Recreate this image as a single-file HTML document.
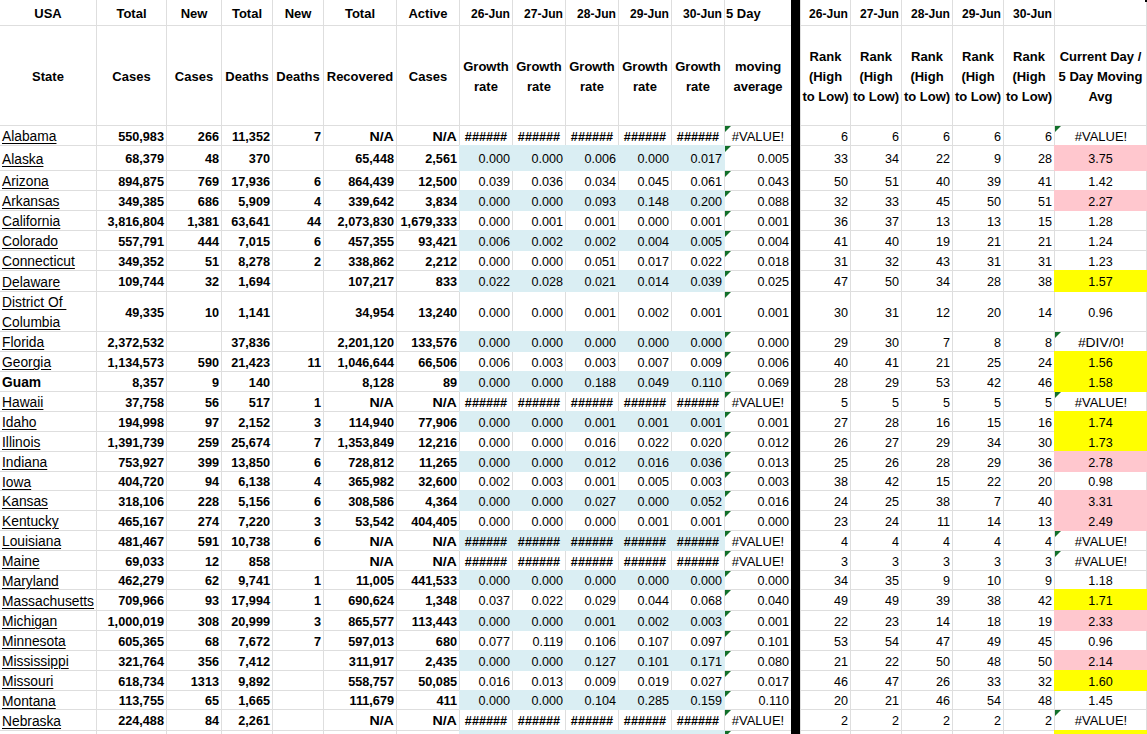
<!DOCTYPE html>
<html><head><meta charset="utf-8"><style>
*{margin:0;padding:0;box-sizing:border-box}
html,body{width:1147px;height:734px;overflow:hidden;background:#fff}
body{position:relative;font-family:"Liberation Sans",sans-serif;color:#000}
.v{position:absolute;top:0;width:1px;height:734px;background:#dedede}
.h{position:absolute;left:0;height:1px;width:1147px;background:#dedede}
.f{position:absolute}
.k{position:absolute;left:791px;top:0;width:9px;height:734px;background:#000}
.t{position:absolute;white-space:nowrap;line-height:20px;height:20px}
.b{font-weight:bold;font-size:13.0px}
.s{font-size:13.8px;text-decoration:underline;text-underline-offset:2px}
.sb{font-size:13.8px;font-weight:bold}
.bn{font-weight:bold;font-size:12.7px}
.n{font-size:12.6px}
.g{position:absolute;width:0;height:0;border-top:6px solid #12702a;border-right:6px solid transparent}
</style></head><body>
<div class="v" style="left:96px"></div><div class="v" style="left:166px"></div><div class="v" style="left:221px"></div><div class="v" style="left:272px"></div><div class="v" style="left:323px"></div><div class="v" style="left:396px"></div><div class="v" style="left:459px"></div><div class="v" style="left:512px"></div><div class="v" style="left:565px"></div><div class="v" style="left:618px"></div><div class="v" style="left:671px"></div><div class="v" style="left:724px"></div><div class="v" style="left:800px"></div><div class="v" style="left:850px"></div><div class="v" style="left:901px"></div><div class="v" style="left:952px"></div><div class="v" style="left:1003px"></div><div class="v" style="left:1054px"></div><div class="v" style="left:1146px"></div><div class="h" style="top:25px"></div><div class="h" style="top:125px"></div><div class="h" style="top:145px"></div><div class="h" style="top:170px"></div><div class="h" style="top:190px"></div><div class="h" style="top:210px"></div><div class="h" style="top:230px"></div><div class="h" style="top:250px"></div><div class="h" style="top:270px"></div><div class="h" style="top:291px"></div><div class="h" style="top:331px"></div><div class="h" style="top:351px"></div><div class="h" style="top:371px"></div><div class="h" style="top:391px"></div><div class="h" style="top:411px"></div><div class="h" style="top:431px"></div><div class="h" style="top:451px"></div><div class="h" style="top:471px"></div><div class="h" style="top:490px"></div><div class="h" style="top:510px"></div><div class="h" style="top:530px"></div><div class="h" style="top:550px"></div><div class="h" style="top:570px"></div><div class="h" style="top:589px"></div><div class="h" style="top:610px"></div><div class="h" style="top:630px"></div><div class="h" style="top:650px"></div><div class="h" style="top:670px"></div><div class="h" style="top:690px"></div><div class="h" style="top:709px"></div><div class="h" style="top:730px"></div>
<div class="f" style="left:459px;top:145px;width:266px;height:26px;background:#daeef3"></div><div class="f" style="left:1054px;top:145px;width:93px;height:26px;background:#ffc7ce"></div><div class="f" style="left:459px;top:190px;width:266px;height:21px;background:#daeef3"></div><div class="f" style="left:1054px;top:190px;width:93px;height:21px;background:#ffc7ce"></div><div class="f" style="left:459px;top:230px;width:266px;height:21px;background:#daeef3"></div><div class="f" style="left:459px;top:270px;width:266px;height:22px;background:#daeef3"></div><div class="f" style="left:1054px;top:270px;width:93px;height:22px;background:#ffff00"></div><div class="f" style="left:459px;top:331px;width:266px;height:21px;background:#daeef3"></div><div class="f" style="left:1054px;top:351px;width:93px;height:21px;background:#ffff00"></div><div class="f" style="left:459px;top:371px;width:266px;height:21px;background:#daeef3"></div><div class="f" style="left:1054px;top:371px;width:93px;height:21px;background:#ffff00"></div><div class="f" style="left:459px;top:411px;width:266px;height:21px;background:#daeef3"></div><div class="f" style="left:1054px;top:411px;width:93px;height:21px;background:#ffff00"></div><div class="f" style="left:1054px;top:431px;width:93px;height:21px;background:#ffff00"></div><div class="f" style="left:459px;top:451px;width:266px;height:21px;background:#daeef3"></div><div class="f" style="left:1054px;top:451px;width:93px;height:21px;background:#ffc7ce"></div><div class="f" style="left:459px;top:490px;width:266px;height:21px;background:#daeef3"></div><div class="f" style="left:1054px;top:490px;width:93px;height:21px;background:#ffc7ce"></div><div class="f" style="left:1054px;top:510px;width:93px;height:21px;background:#ffc7ce"></div><div class="f" style="left:459px;top:530px;width:266px;height:21px;background:#daeef3"></div><div class="f" style="left:459px;top:570px;width:266px;height:20px;background:#daeef3"></div><div class="f" style="left:1054px;top:589px;width:93px;height:22px;background:#ffff00"></div><div class="f" style="left:459px;top:610px;width:266px;height:21px;background:#daeef3"></div><div class="f" style="left:1054px;top:610px;width:93px;height:21px;background:#ffc7ce"></div><div class="f" style="left:459px;top:650px;width:266px;height:21px;background:#daeef3"></div><div class="f" style="left:1054px;top:650px;width:93px;height:21px;background:#ffc7ce"></div><div class="f" style="left:1054px;top:670px;width:93px;height:21px;background:#ffff00"></div><div class="f" style="left:459px;top:690px;width:266px;height:20px;background:#daeef3"></div><div class="f" style="left:459px;top:730px;width:266px;height:31px;background:#daeef3"></div><div class="f" style="left:1054px;top:730px;width:93px;height:10px;background:#ffff00"></div>
<div class="k"></div><div style="position:absolute;left:1145px;top:0;width:2px;height:2px;background:#000"></div>
<div class="g" style="left:725px;top:126px"></div><div class="g" style="left:1055px;top:126px"></div><div class="g" style="left:725px;top:146px"></div><div class="g" style="left:725px;top:171px"></div><div class="g" style="left:725px;top:191px"></div><div class="g" style="left:725px;top:211px"></div><div class="g" style="left:725px;top:231px"></div><div class="g" style="left:725px;top:251px"></div><div class="g" style="left:725px;top:271px"></div><div class="g" style="left:725px;top:292px"></div><div class="g" style="left:725px;top:332px"></div><div class="g" style="left:1055px;top:332px"></div><div class="g" style="left:725px;top:352px"></div><div class="g" style="left:725px;top:372px"></div><div class="g" style="left:725px;top:392px"></div><div class="g" style="left:1055px;top:392px"></div><div class="g" style="left:725px;top:412px"></div><div class="g" style="left:725px;top:432px"></div><div class="g" style="left:725px;top:452px"></div><div class="g" style="left:725px;top:472px"></div><div class="g" style="left:725px;top:491px"></div><div class="g" style="left:725px;top:511px"></div><div class="g" style="left:725px;top:531px"></div><div class="g" style="left:1055px;top:531px"></div><div class="g" style="left:725px;top:551px"></div><div class="g" style="left:1055px;top:551px"></div><div class="g" style="left:725px;top:571px"></div><div class="g" style="left:725px;top:590px"></div><div class="g" style="left:725px;top:611px"></div><div class="g" style="left:725px;top:631px"></div><div class="g" style="left:725px;top:651px"></div><div class="g" style="left:725px;top:671px"></div><div class="g" style="left:725px;top:691px"></div><div class="g" style="left:725px;top:710px"></div><div class="g" style="left:1055px;top:710px"></div><div class="g" style="left:725px;top:731px"></div>
<div class="t b" style="top:3.50px;left:-52.0px;width:200px;text-align:center;">USA</div><div class="t b" style="top:3.50px;left:31.5px;width:200px;text-align:center;">Total</div><div class="t b" style="top:3.50px;left:94.0px;width:200px;text-align:center;">New</div><div class="t b" style="top:3.50px;left:147.0px;width:200px;text-align:center;">Total</div><div class="t b" style="top:3.50px;left:198.0px;width:200px;text-align:center;">New</div><div class="t b" style="top:3.50px;left:260.0px;width:200px;text-align:center;">Total</div><div class="t b" style="top:3.50px;left:328.0px;width:200px;text-align:center;">Active</div><div class="t b" style="top:3.50px;right:637px;transform:scaleX(0.93);transform-origin:right;">26-Jun</div><div class="t b" style="top:3.50px;right:584px;transform:scaleX(0.93);transform-origin:right;">27-Jun</div><div class="t b" style="top:3.50px;right:531px;transform:scaleX(0.93);transform-origin:right;">28-Jun</div><div class="t b" style="top:3.50px;right:478px;transform:scaleX(0.93);transform-origin:right;">29-Jun</div><div class="t b" style="top:3.50px;right:425px;transform:scaleX(0.93);transform-origin:right;">30-Jun</div><div class="t b" style="top:3.50px;left:726px;">5 Day</div><div class="t b" style="top:3.50px;right:299px;transform:scaleX(0.93);transform-origin:right;">26-Jun</div><div class="t b" style="top:3.50px;right:248px;transform:scaleX(0.93);transform-origin:right;">27-Jun</div><div class="t b" style="top:3.50px;right:197px;transform:scaleX(0.93);transform-origin:right;">28-Jun</div><div class="t b" style="top:3.50px;right:146px;transform:scaleX(0.93);transform-origin:right;">29-Jun</div><div class="t b" style="top:3.50px;right:95px;transform:scaleX(0.93);transform-origin:right;">30-Jun</div><div class="t b" style="top:66.50px;left:-52.0px;width:200px;text-align:center;">State</div><div class="t b" style="top:66.50px;left:31.5px;width:200px;text-align:center;">Cases</div><div class="t b" style="top:66.50px;left:94.0px;width:200px;text-align:center;">Cases</div><div class="t b" style="top:66.50px;left:147.0px;width:200px;text-align:center;">Deaths</div><div class="t b" style="top:66.50px;left:198.0px;width:200px;text-align:center;">Deaths</div><div class="t b" style="top:66.50px;left:260.0px;width:200px;text-align:center;">Recovered</div><div class="t b" style="top:66.50px;left:328.0px;width:200px;text-align:center;">Cases</div><div class="t b" style="top:56.50px;left:386.0px;width:200px;text-align:center;">Growth</div><div class="t b" style="top:76.50px;left:386.0px;width:200px;text-align:center;">rate</div><div class="t b" style="top:56.50px;left:439.0px;width:200px;text-align:center;">Growth</div><div class="t b" style="top:76.50px;left:439.0px;width:200px;text-align:center;">rate</div><div class="t b" style="top:56.50px;left:492.0px;width:200px;text-align:center;">Growth</div><div class="t b" style="top:76.50px;left:492.0px;width:200px;text-align:center;">rate</div><div class="t b" style="top:56.50px;left:545.0px;width:200px;text-align:center;">Growth</div><div class="t b" style="top:76.50px;left:545.0px;width:200px;text-align:center;">rate</div><div class="t b" style="top:56.50px;left:598.0px;width:200px;text-align:center;">Growth</div><div class="t b" style="top:76.50px;left:598.0px;width:200px;text-align:center;">rate</div><div class="t b" style="top:56.50px;left:658.0px;width:200px;text-align:center;">moving</div><div class="t b" style="top:76.50px;left:658.0px;width:200px;text-align:center;">average</div><div class="t b" style="top:46.50px;left:725.5px;width:200px;text-align:center;">Rank</div><div class="t b" style="top:66.50px;left:725.5px;width:200px;text-align:center;">(High</div><div class="t b" style="top:86.50px;left:725.5px;width:200px;text-align:center;">to Low)</div><div class="t b" style="top:46.50px;left:776.0px;width:200px;text-align:center;">Rank</div><div class="t b" style="top:66.50px;left:776.0px;width:200px;text-align:center;">(High</div><div class="t b" style="top:86.50px;left:776.0px;width:200px;text-align:center;">to Low)</div><div class="t b" style="top:46.50px;left:827.0px;width:200px;text-align:center;">Rank</div><div class="t b" style="top:66.50px;left:827.0px;width:200px;text-align:center;">(High</div><div class="t b" style="top:86.50px;left:827.0px;width:200px;text-align:center;">to Low)</div><div class="t b" style="top:46.50px;left:878.0px;width:200px;text-align:center;">Rank</div><div class="t b" style="top:66.50px;left:878.0px;width:200px;text-align:center;">(High</div><div class="t b" style="top:86.50px;left:878.0px;width:200px;text-align:center;">to Low)</div><div class="t b" style="top:46.50px;left:929.0px;width:200px;text-align:center;">Rank</div><div class="t b" style="top:66.50px;left:929.0px;width:200px;text-align:center;">(High</div><div class="t b" style="top:86.50px;left:929.0px;width:200px;text-align:center;">to Low)</div><div class="t b" style="top:46.50px;left:1000.5px;width:200px;text-align:center;">Current Day /</div><div class="t b" style="top:66.50px;left:1000.5px;width:200px;text-align:center;">5 Day Moving</div><div class="t b" style="top:86.50px;left:1000.5px;width:200px;text-align:center;">Avg</div><div class="t s" style="top:127.22px;left:2px;">Alabama</div><div class="t bn" style="top:126.60px;right:983px;">550,983</div><div class="t bn" style="top:126.60px;right:928px;">266</div><div class="t bn" style="top:126.60px;right:877px;">11,352</div><div class="t bn" style="top:126.60px;right:826px;">7</div><div class="t bn" style="top:126.60px;right:753px;transform:scaleX(1.12);transform-origin:right;">N/A</div><div class="t bn" style="top:126.60px;right:690px;transform:scaleX(1.12);transform-origin:right;">N/A</div><div class="t bn" style="top:126.60px;left:386.0px;width:200px;text-align:center;">######</div><div class="t bn" style="top:126.60px;left:439.0px;width:200px;text-align:center;">######</div><div class="t bn" style="top:126.60px;left:492.0px;width:200px;text-align:center;">######</div><div class="t bn" style="top:126.60px;left:545.0px;width:200px;text-align:center;">######</div><div class="t bn" style="top:126.60px;left:598.0px;width:200px;text-align:center;">######</div><div class="t n" style="top:126.63px;left:658.0px;width:200px;text-align:center;transform:scaleX(1.03);transform-origin:center;">#VALUE!</div><div class="t n" style="top:126.63px;right:299px;">6</div><div class="t n" style="top:126.63px;right:248px;">6</div><div class="t n" style="top:126.63px;right:197px;">6</div><div class="t n" style="top:126.63px;right:146px;">6</div><div class="t n" style="top:126.63px;right:95px;">6</div><div class="t n" style="top:126.63px;left:1000.5px;width:200px;text-align:center;transform:scaleX(1.03);transform-origin:center;">#VALUE!</div><div class="t s" style="top:149.72px;left:2px;">Alaska</div><div class="t bn" style="top:149.10px;right:983px;">68,379</div><div class="t bn" style="top:149.10px;right:928px;">48</div><div class="t bn" style="top:149.10px;right:877px;">370</div><div class="t bn" style="top:149.10px;right:753px;">65,448</div><div class="t bn" style="top:149.10px;right:690px;">2,561</div><div class="t n" style="top:149.13px;right:637px;">0.000</div><div class="t n" style="top:149.13px;right:584px;">0.000</div><div class="t n" style="top:149.13px;right:531px;">0.006</div><div class="t n" style="top:149.13px;right:478px;">0.000</div><div class="t n" style="top:149.13px;right:425px;">0.017</div><div class="t n" style="top:149.13px;right:358px;">0.005</div><div class="t n" style="top:149.13px;right:299px;">33</div><div class="t n" style="top:149.13px;right:248px;">34</div><div class="t n" style="top:149.13px;right:197px;">22</div><div class="t n" style="top:149.13px;right:146px;">9</div><div class="t n" style="top:149.13px;right:95px;">28</div><div class="t n" style="top:149.13px;left:1000.5px;width:200px;text-align:center;">3.75</div><div class="t s" style="top:172.22px;left:2px;">Arizona</div><div class="t bn" style="top:171.60px;right:983px;">894,875</div><div class="t bn" style="top:171.60px;right:928px;">769</div><div class="t bn" style="top:171.60px;right:877px;">17,936</div><div class="t bn" style="top:171.60px;right:826px;">6</div><div class="t bn" style="top:171.60px;right:753px;">864,439</div><div class="t bn" style="top:171.60px;right:690px;">12,500</div><div class="t n" style="top:171.63px;right:637px;">0.039</div><div class="t n" style="top:171.63px;right:584px;">0.036</div><div class="t n" style="top:171.63px;right:531px;">0.034</div><div class="t n" style="top:171.63px;right:478px;">0.045</div><div class="t n" style="top:171.63px;right:425px;">0.061</div><div class="t n" style="top:171.63px;right:358px;">0.043</div><div class="t n" style="top:171.63px;right:299px;">50</div><div class="t n" style="top:171.63px;right:248px;">51</div><div class="t n" style="top:171.63px;right:197px;">40</div><div class="t n" style="top:171.63px;right:146px;">39</div><div class="t n" style="top:171.63px;right:95px;">41</div><div class="t n" style="top:171.63px;left:1000.5px;width:200px;text-align:center;">1.42</div><div class="t s" style="top:192.22px;left:2px;">Arkansas</div><div class="t bn" style="top:191.60px;right:983px;">349,385</div><div class="t bn" style="top:191.60px;right:928px;">686</div><div class="t bn" style="top:191.60px;right:877px;">5,909</div><div class="t bn" style="top:191.60px;right:826px;">4</div><div class="t bn" style="top:191.60px;right:753px;">339,642</div><div class="t bn" style="top:191.60px;right:690px;">3,834</div><div class="t n" style="top:191.63px;right:637px;">0.000</div><div class="t n" style="top:191.63px;right:584px;">0.000</div><div class="t n" style="top:191.63px;right:531px;">0.093</div><div class="t n" style="top:191.63px;right:478px;">0.148</div><div class="t n" style="top:191.63px;right:425px;">0.200</div><div class="t n" style="top:191.63px;right:358px;">0.088</div><div class="t n" style="top:191.63px;right:299px;">32</div><div class="t n" style="top:191.63px;right:248px;">33</div><div class="t n" style="top:191.63px;right:197px;">45</div><div class="t n" style="top:191.63px;right:146px;">50</div><div class="t n" style="top:191.63px;right:95px;">51</div><div class="t n" style="top:191.63px;left:1000.5px;width:200px;text-align:center;">2.27</div><div class="t s" style="top:212.22px;left:2px;">California</div><div class="t bn" style="top:211.60px;right:983px;">3,816,804</div><div class="t bn" style="top:211.60px;right:928px;">1,381</div><div class="t bn" style="top:211.60px;right:877px;">63,641</div><div class="t bn" style="top:211.60px;right:826px;">44</div><div class="t bn" style="top:211.60px;right:753px;">2,073,830</div><div class="t bn" style="top:211.60px;right:690px;">1,679,333</div><div class="t n" style="top:211.63px;right:637px;">0.000</div><div class="t n" style="top:211.63px;right:584px;">0.001</div><div class="t n" style="top:211.63px;right:531px;">0.001</div><div class="t n" style="top:211.63px;right:478px;">0.000</div><div class="t n" style="top:211.63px;right:425px;">0.001</div><div class="t n" style="top:211.63px;right:358px;">0.001</div><div class="t n" style="top:211.63px;right:299px;">36</div><div class="t n" style="top:211.63px;right:248px;">37</div><div class="t n" style="top:211.63px;right:197px;">13</div><div class="t n" style="top:211.63px;right:146px;">13</div><div class="t n" style="top:211.63px;right:95px;">15</div><div class="t n" style="top:211.63px;left:1000.5px;width:200px;text-align:center;">1.28</div><div class="t s" style="top:232.22px;left:2px;">Colorado</div><div class="t bn" style="top:231.60px;right:983px;">557,791</div><div class="t bn" style="top:231.60px;right:928px;">444</div><div class="t bn" style="top:231.60px;right:877px;">7,015</div><div class="t bn" style="top:231.60px;right:826px;">6</div><div class="t bn" style="top:231.60px;right:753px;">457,355</div><div class="t bn" style="top:231.60px;right:690px;">93,421</div><div class="t n" style="top:231.63px;right:637px;">0.006</div><div class="t n" style="top:231.63px;right:584px;">0.002</div><div class="t n" style="top:231.63px;right:531px;">0.002</div><div class="t n" style="top:231.63px;right:478px;">0.004</div><div class="t n" style="top:231.63px;right:425px;">0.005</div><div class="t n" style="top:231.63px;right:358px;">0.004</div><div class="t n" style="top:231.63px;right:299px;">41</div><div class="t n" style="top:231.63px;right:248px;">40</div><div class="t n" style="top:231.63px;right:197px;">19</div><div class="t n" style="top:231.63px;right:146px;">21</div><div class="t n" style="top:231.63px;right:95px;">21</div><div class="t n" style="top:231.63px;left:1000.5px;width:200px;text-align:center;">1.24</div><div class="t s" style="top:252.22px;left:2px;">Connecticut</div><div class="t bn" style="top:251.60px;right:983px;">349,352</div><div class="t bn" style="top:251.60px;right:928px;">51</div><div class="t bn" style="top:251.60px;right:877px;">8,278</div><div class="t bn" style="top:251.60px;right:826px;">2</div><div class="t bn" style="top:251.60px;right:753px;">338,862</div><div class="t bn" style="top:251.60px;right:690px;">2,212</div><div class="t n" style="top:251.63px;right:637px;">0.000</div><div class="t n" style="top:251.63px;right:584px;">0.000</div><div class="t n" style="top:251.63px;right:531px;">0.051</div><div class="t n" style="top:251.63px;right:478px;">0.017</div><div class="t n" style="top:251.63px;right:425px;">0.022</div><div class="t n" style="top:251.63px;right:358px;">0.018</div><div class="t n" style="top:251.63px;right:299px;">31</div><div class="t n" style="top:251.63px;right:248px;">32</div><div class="t n" style="top:251.63px;right:197px;">43</div><div class="t n" style="top:251.63px;right:146px;">31</div><div class="t n" style="top:251.63px;right:95px;">31</div><div class="t n" style="top:251.63px;left:1000.5px;width:200px;text-align:center;">1.23</div><div class="t s" style="top:272.72px;left:2px;">Delaware</div><div class="t bn" style="top:272.10px;right:983px;">109,744</div><div class="t bn" style="top:272.10px;right:928px;">32</div><div class="t bn" style="top:272.10px;right:877px;">1,694</div><div class="t bn" style="top:272.10px;right:753px;">107,217</div><div class="t bn" style="top:272.10px;right:690px;">833</div><div class="t n" style="top:272.13px;right:637px;">0.022</div><div class="t n" style="top:272.13px;right:584px;">0.028</div><div class="t n" style="top:272.13px;right:531px;">0.021</div><div class="t n" style="top:272.13px;right:478px;">0.014</div><div class="t n" style="top:272.13px;right:425px;">0.039</div><div class="t n" style="top:272.13px;right:358px;">0.025</div><div class="t n" style="top:272.13px;right:299px;">47</div><div class="t n" style="top:272.13px;right:248px;">50</div><div class="t n" style="top:272.13px;right:197px;">34</div><div class="t n" style="top:272.13px;right:146px;">28</div><div class="t n" style="top:272.13px;right:95px;">38</div><div class="t n" style="top:272.13px;left:1000.5px;width:200px;text-align:center;">1.57</div><div class="t s" style="top:293.22px;left:2px;">District&nbsp;Of&nbsp;</div><div class="t s" style="top:313.22px;left:2px;">Columbia</div><div class="t bn" style="top:302.60px;right:983px;">49,335</div><div class="t bn" style="top:302.60px;right:928px;">10</div><div class="t bn" style="top:302.60px;right:877px;">1,141</div><div class="t bn" style="top:302.60px;right:753px;">34,954</div><div class="t bn" style="top:302.60px;right:690px;">13,240</div><div class="t n" style="top:302.63px;right:637px;">0.000</div><div class="t n" style="top:302.63px;right:584px;">0.000</div><div class="t n" style="top:302.63px;right:531px;">0.001</div><div class="t n" style="top:302.63px;right:478px;">0.002</div><div class="t n" style="top:302.63px;right:425px;">0.001</div><div class="t n" style="top:302.63px;right:358px;">0.001</div><div class="t n" style="top:302.63px;right:299px;">30</div><div class="t n" style="top:302.63px;right:248px;">31</div><div class="t n" style="top:302.63px;right:197px;">12</div><div class="t n" style="top:302.63px;right:146px;">20</div><div class="t n" style="top:302.63px;right:95px;">14</div><div class="t n" style="top:302.63px;left:1000.5px;width:200px;text-align:center;">0.96</div><div class="t s" style="top:333.22px;left:2px;">Florida</div><div class="t bn" style="top:332.60px;right:983px;">2,372,532</div><div class="t bn" style="top:332.60px;right:877px;">37,836</div><div class="t bn" style="top:332.60px;right:753px;">2,201,120</div><div class="t bn" style="top:332.60px;right:690px;">133,576</div><div class="t n" style="top:332.63px;right:637px;">0.000</div><div class="t n" style="top:332.63px;right:584px;">0.000</div><div class="t n" style="top:332.63px;right:531px;">0.000</div><div class="t n" style="top:332.63px;right:478px;">0.000</div><div class="t n" style="top:332.63px;right:425px;">0.000</div><div class="t n" style="top:332.63px;right:358px;">0.000</div><div class="t n" style="top:332.63px;right:299px;">29</div><div class="t n" style="top:332.63px;right:248px;">30</div><div class="t n" style="top:332.63px;right:197px;">7</div><div class="t n" style="top:332.63px;right:146px;">8</div><div class="t n" style="top:332.63px;right:95px;">8</div><div class="t n" style="top:332.63px;left:1000.5px;width:200px;text-align:center;transform:scaleX(1.1);transform-origin:center;">#DIV/0!</div><div class="t s" style="top:353.22px;left:2px;">Georgia</div><div class="t bn" style="top:352.60px;right:983px;">1,134,573</div><div class="t bn" style="top:352.60px;right:928px;">590</div><div class="t bn" style="top:352.60px;right:877px;">21,423</div><div class="t bn" style="top:352.60px;right:826px;">11</div><div class="t bn" style="top:352.60px;right:753px;">1,046,644</div><div class="t bn" style="top:352.60px;right:690px;">66,506</div><div class="t n" style="top:352.63px;right:637px;">0.006</div><div class="t n" style="top:352.63px;right:584px;">0.003</div><div class="t n" style="top:352.63px;right:531px;">0.003</div><div class="t n" style="top:352.63px;right:478px;">0.007</div><div class="t n" style="top:352.63px;right:425px;">0.009</div><div class="t n" style="top:352.63px;right:358px;">0.006</div><div class="t n" style="top:352.63px;right:299px;">40</div><div class="t n" style="top:352.63px;right:248px;">41</div><div class="t n" style="top:352.63px;right:197px;">21</div><div class="t n" style="top:352.63px;right:146px;">25</div><div class="t n" style="top:352.63px;right:95px;">24</div><div class="t n" style="top:352.63px;left:1000.5px;width:200px;text-align:center;">1.56</div><div class="t sb" style="top:373.22px;left:2px;">Guam</div><div class="t bn" style="top:372.60px;right:983px;">8,357</div><div class="t bn" style="top:372.60px;right:928px;">9</div><div class="t bn" style="top:372.60px;right:877px;">140</div><div class="t bn" style="top:372.60px;right:753px;">8,128</div><div class="t bn" style="top:372.60px;right:690px;">89</div><div class="t n" style="top:372.63px;right:637px;">0.000</div><div class="t n" style="top:372.63px;right:584px;">0.000</div><div class="t n" style="top:372.63px;right:531px;">0.188</div><div class="t n" style="top:372.63px;right:478px;">0.049</div><div class="t n" style="top:372.63px;right:425px;">0.110</div><div class="t n" style="top:372.63px;right:358px;">0.069</div><div class="t n" style="top:372.63px;right:299px;">28</div><div class="t n" style="top:372.63px;right:248px;">29</div><div class="t n" style="top:372.63px;right:197px;">53</div><div class="t n" style="top:372.63px;right:146px;">42</div><div class="t n" style="top:372.63px;right:95px;">46</div><div class="t n" style="top:372.63px;left:1000.5px;width:200px;text-align:center;">1.58</div><div class="t s" style="top:393.22px;left:2px;">Hawaii</div><div class="t bn" style="top:392.60px;right:983px;">37,758</div><div class="t bn" style="top:392.60px;right:928px;">56</div><div class="t bn" style="top:392.60px;right:877px;">517</div><div class="t bn" style="top:392.60px;right:826px;">1</div><div class="t bn" style="top:392.60px;right:753px;transform:scaleX(1.12);transform-origin:right;">N/A</div><div class="t bn" style="top:392.60px;right:690px;transform:scaleX(1.12);transform-origin:right;">N/A</div><div class="t bn" style="top:392.60px;left:386.0px;width:200px;text-align:center;">######</div><div class="t bn" style="top:392.60px;left:439.0px;width:200px;text-align:center;">######</div><div class="t bn" style="top:392.60px;left:492.0px;width:200px;text-align:center;">######</div><div class="t bn" style="top:392.60px;left:545.0px;width:200px;text-align:center;">######</div><div class="t bn" style="top:392.60px;left:598.0px;width:200px;text-align:center;">######</div><div class="t n" style="top:392.63px;left:658.0px;width:200px;text-align:center;transform:scaleX(1.03);transform-origin:center;">#VALUE!</div><div class="t n" style="top:392.63px;right:299px;">5</div><div class="t n" style="top:392.63px;right:248px;">5</div><div class="t n" style="top:392.63px;right:197px;">5</div><div class="t n" style="top:392.63px;right:146px;">5</div><div class="t n" style="top:392.63px;right:95px;">5</div><div class="t n" style="top:392.63px;left:1000.5px;width:200px;text-align:center;transform:scaleX(1.03);transform-origin:center;">#VALUE!</div><div class="t s" style="top:413.22px;left:2px;">Idaho</div><div class="t bn" style="top:412.60px;right:983px;">194,998</div><div class="t bn" style="top:412.60px;right:928px;">97</div><div class="t bn" style="top:412.60px;right:877px;">2,152</div><div class="t bn" style="top:412.60px;right:826px;">3</div><div class="t bn" style="top:412.60px;right:753px;">114,940</div><div class="t bn" style="top:412.60px;right:690px;">77,906</div><div class="t n" style="top:412.63px;right:637px;">0.000</div><div class="t n" style="top:412.63px;right:584px;">0.000</div><div class="t n" style="top:412.63px;right:531px;">0.001</div><div class="t n" style="top:412.63px;right:478px;">0.001</div><div class="t n" style="top:412.63px;right:425px;">0.001</div><div class="t n" style="top:412.63px;right:358px;">0.001</div><div class="t n" style="top:412.63px;right:299px;">27</div><div class="t n" style="top:412.63px;right:248px;">28</div><div class="t n" style="top:412.63px;right:197px;">16</div><div class="t n" style="top:412.63px;right:146px;">15</div><div class="t n" style="top:412.63px;right:95px;">16</div><div class="t n" style="top:412.63px;left:1000.5px;width:200px;text-align:center;">1.74</div><div class="t s" style="top:433.22px;left:2px;">Illinois</div><div class="t bn" style="top:432.60px;right:983px;">1,391,739</div><div class="t bn" style="top:432.60px;right:928px;">259</div><div class="t bn" style="top:432.60px;right:877px;">25,674</div><div class="t bn" style="top:432.60px;right:826px;">7</div><div class="t bn" style="top:432.60px;right:753px;">1,353,849</div><div class="t bn" style="top:432.60px;right:690px;">12,216</div><div class="t n" style="top:432.63px;right:637px;">0.000</div><div class="t n" style="top:432.63px;right:584px;">0.000</div><div class="t n" style="top:432.63px;right:531px;">0.016</div><div class="t n" style="top:432.63px;right:478px;">0.022</div><div class="t n" style="top:432.63px;right:425px;">0.020</div><div class="t n" style="top:432.63px;right:358px;">0.012</div><div class="t n" style="top:432.63px;right:299px;">26</div><div class="t n" style="top:432.63px;right:248px;">27</div><div class="t n" style="top:432.63px;right:197px;">29</div><div class="t n" style="top:432.63px;right:146px;">34</div><div class="t n" style="top:432.63px;right:95px;">30</div><div class="t n" style="top:432.63px;left:1000.5px;width:200px;text-align:center;">1.73</div><div class="t s" style="top:453.22px;left:2px;">Indiana</div><div class="t bn" style="top:452.60px;right:983px;">753,927</div><div class="t bn" style="top:452.60px;right:928px;">399</div><div class="t bn" style="top:452.60px;right:877px;">13,850</div><div class="t bn" style="top:452.60px;right:826px;">6</div><div class="t bn" style="top:452.60px;right:753px;">728,812</div><div class="t bn" style="top:452.60px;right:690px;">11,265</div><div class="t n" style="top:452.63px;right:637px;">0.000</div><div class="t n" style="top:452.63px;right:584px;">0.000</div><div class="t n" style="top:452.63px;right:531px;">0.012</div><div class="t n" style="top:452.63px;right:478px;">0.016</div><div class="t n" style="top:452.63px;right:425px;">0.036</div><div class="t n" style="top:452.63px;right:358px;">0.013</div><div class="t n" style="top:452.63px;right:299px;">25</div><div class="t n" style="top:452.63px;right:248px;">26</div><div class="t n" style="top:452.63px;right:197px;">28</div><div class="t n" style="top:452.63px;right:146px;">29</div><div class="t n" style="top:452.63px;right:95px;">36</div><div class="t n" style="top:452.63px;left:1000.5px;width:200px;text-align:center;">2.78</div><div class="t s" style="top:472.72px;left:2px;">Iowa</div><div class="t bn" style="top:472.10px;right:983px;">404,720</div><div class="t bn" style="top:472.10px;right:928px;">94</div><div class="t bn" style="top:472.10px;right:877px;">6,138</div><div class="t bn" style="top:472.10px;right:826px;">4</div><div class="t bn" style="top:472.10px;right:753px;">365,982</div><div class="t bn" style="top:472.10px;right:690px;">32,600</div><div class="t n" style="top:472.13px;right:637px;">0.002</div><div class="t n" style="top:472.13px;right:584px;">0.003</div><div class="t n" style="top:472.13px;right:531px;">0.001</div><div class="t n" style="top:472.13px;right:478px;">0.005</div><div class="t n" style="top:472.13px;right:425px;">0.003</div><div class="t n" style="top:472.13px;right:358px;">0.003</div><div class="t n" style="top:472.13px;right:299px;">38</div><div class="t n" style="top:472.13px;right:248px;">42</div><div class="t n" style="top:472.13px;right:197px;">15</div><div class="t n" style="top:472.13px;right:146px;">22</div><div class="t n" style="top:472.13px;right:95px;">20</div><div class="t n" style="top:472.13px;left:1000.5px;width:200px;text-align:center;">0.98</div><div class="t s" style="top:492.22px;left:2px;">Kansas</div><div class="t bn" style="top:491.60px;right:983px;">318,106</div><div class="t bn" style="top:491.60px;right:928px;">228</div><div class="t bn" style="top:491.60px;right:877px;">5,156</div><div class="t bn" style="top:491.60px;right:826px;">6</div><div class="t bn" style="top:491.60px;right:753px;">308,586</div><div class="t bn" style="top:491.60px;right:690px;">4,364</div><div class="t n" style="top:491.63px;right:637px;">0.000</div><div class="t n" style="top:491.63px;right:584px;">0.000</div><div class="t n" style="top:491.63px;right:531px;">0.027</div><div class="t n" style="top:491.63px;right:478px;">0.000</div><div class="t n" style="top:491.63px;right:425px;">0.052</div><div class="t n" style="top:491.63px;right:358px;">0.016</div><div class="t n" style="top:491.63px;right:299px;">24</div><div class="t n" style="top:491.63px;right:248px;">25</div><div class="t n" style="top:491.63px;right:197px;">38</div><div class="t n" style="top:491.63px;right:146px;">7</div><div class="t n" style="top:491.63px;right:95px;">40</div><div class="t n" style="top:491.63px;left:1000.5px;width:200px;text-align:center;">3.31</div><div class="t s" style="top:512.22px;left:2px;">Kentucky</div><div class="t bn" style="top:511.60px;right:983px;">465,167</div><div class="t bn" style="top:511.60px;right:928px;">274</div><div class="t bn" style="top:511.60px;right:877px;">7,220</div><div class="t bn" style="top:511.60px;right:826px;">3</div><div class="t bn" style="top:511.60px;right:753px;">53,542</div><div class="t bn" style="top:511.60px;right:690px;">404,405</div><div class="t n" style="top:511.63px;right:637px;">0.000</div><div class="t n" style="top:511.63px;right:584px;">0.000</div><div class="t n" style="top:511.63px;right:531px;">0.000</div><div class="t n" style="top:511.63px;right:478px;">0.001</div><div class="t n" style="top:511.63px;right:425px;">0.001</div><div class="t n" style="top:511.63px;right:358px;">0.000</div><div class="t n" style="top:511.63px;right:299px;">23</div><div class="t n" style="top:511.63px;right:248px;">24</div><div class="t n" style="top:511.63px;right:197px;">11</div><div class="t n" style="top:511.63px;right:146px;">14</div><div class="t n" style="top:511.63px;right:95px;">13</div><div class="t n" style="top:511.63px;left:1000.5px;width:200px;text-align:center;">2.49</div><div class="t s" style="top:532.22px;left:2px;">Louisiana</div><div class="t bn" style="top:531.60px;right:983px;">481,467</div><div class="t bn" style="top:531.60px;right:928px;">591</div><div class="t bn" style="top:531.60px;right:877px;">10,738</div><div class="t bn" style="top:531.60px;right:826px;">6</div><div class="t bn" style="top:531.60px;right:753px;transform:scaleX(1.12);transform-origin:right;">N/A</div><div class="t bn" style="top:531.60px;right:690px;transform:scaleX(1.12);transform-origin:right;">N/A</div><div class="t bn" style="top:531.60px;left:386.0px;width:200px;text-align:center;">######</div><div class="t bn" style="top:531.60px;left:439.0px;width:200px;text-align:center;">######</div><div class="t bn" style="top:531.60px;left:492.0px;width:200px;text-align:center;">######</div><div class="t bn" style="top:531.60px;left:545.0px;width:200px;text-align:center;">######</div><div class="t bn" style="top:531.60px;left:598.0px;width:200px;text-align:center;">######</div><div class="t n" style="top:531.63px;left:658.0px;width:200px;text-align:center;transform:scaleX(1.03);transform-origin:center;">#VALUE!</div><div class="t n" style="top:531.63px;right:299px;">4</div><div class="t n" style="top:531.63px;right:248px;">4</div><div class="t n" style="top:531.63px;right:197px;">4</div><div class="t n" style="top:531.63px;right:146px;">4</div><div class="t n" style="top:531.63px;right:95px;">4</div><div class="t n" style="top:531.63px;left:1000.5px;width:200px;text-align:center;transform:scaleX(1.03);transform-origin:center;">#VALUE!</div><div class="t s" style="top:552.22px;left:2px;">Maine</div><div class="t bn" style="top:551.60px;right:983px;">69,033</div><div class="t bn" style="top:551.60px;right:928px;">12</div><div class="t bn" style="top:551.60px;right:877px;">858</div><div class="t bn" style="top:551.60px;right:753px;transform:scaleX(1.12);transform-origin:right;">N/A</div><div class="t bn" style="top:551.60px;right:690px;transform:scaleX(1.12);transform-origin:right;">N/A</div><div class="t bn" style="top:551.60px;left:386.0px;width:200px;text-align:center;">######</div><div class="t bn" style="top:551.60px;left:439.0px;width:200px;text-align:center;">######</div><div class="t bn" style="top:551.60px;left:492.0px;width:200px;text-align:center;">######</div><div class="t bn" style="top:551.60px;left:545.0px;width:200px;text-align:center;">######</div><div class="t bn" style="top:551.60px;left:598.0px;width:200px;text-align:center;">######</div><div class="t n" style="top:551.63px;left:658.0px;width:200px;text-align:center;transform:scaleX(1.03);transform-origin:center;">#VALUE!</div><div class="t n" style="top:551.63px;right:299px;">3</div><div class="t n" style="top:551.63px;right:248px;">3</div><div class="t n" style="top:551.63px;right:197px;">3</div><div class="t n" style="top:551.63px;right:146px;">3</div><div class="t n" style="top:551.63px;right:95px;">3</div><div class="t n" style="top:551.63px;left:1000.5px;width:200px;text-align:center;transform:scaleX(1.03);transform-origin:center;">#VALUE!</div><div class="t s" style="top:571.72px;left:2px;">Maryland</div><div class="t bn" style="top:571.10px;right:983px;">462,279</div><div class="t bn" style="top:571.10px;right:928px;">62</div><div class="t bn" style="top:571.10px;right:877px;">9,741</div><div class="t bn" style="top:571.10px;right:826px;">1</div><div class="t bn" style="top:571.10px;right:753px;">11,005</div><div class="t bn" style="top:571.10px;right:690px;">441,533</div><div class="t n" style="top:571.13px;right:637px;">0.000</div><div class="t n" style="top:571.13px;right:584px;">0.000</div><div class="t n" style="top:571.13px;right:531px;">0.000</div><div class="t n" style="top:571.13px;right:478px;">0.000</div><div class="t n" style="top:571.13px;right:425px;">0.000</div><div class="t n" style="top:571.13px;right:358px;">0.000</div><div class="t n" style="top:571.13px;right:299px;">34</div><div class="t n" style="top:571.13px;right:248px;">35</div><div class="t n" style="top:571.13px;right:197px;">9</div><div class="t n" style="top:571.13px;right:146px;">10</div><div class="t n" style="top:571.13px;right:95px;">9</div><div class="t n" style="top:571.13px;left:1000.5px;width:200px;text-align:center;">1.18</div><div class="t s" style="top:591.72px;left:2px;">Massachusetts</div><div class="t bn" style="top:591.10px;right:983px;">709,966</div><div class="t bn" style="top:591.10px;right:928px;">93</div><div class="t bn" style="top:591.10px;right:877px;">17,994</div><div class="t bn" style="top:591.10px;right:826px;">1</div><div class="t bn" style="top:591.10px;right:753px;">690,624</div><div class="t bn" style="top:591.10px;right:690px;">1,348</div><div class="t n" style="top:591.13px;right:637px;">0.037</div><div class="t n" style="top:591.13px;right:584px;">0.022</div><div class="t n" style="top:591.13px;right:531px;">0.029</div><div class="t n" style="top:591.13px;right:478px;">0.044</div><div class="t n" style="top:591.13px;right:425px;">0.068</div><div class="t n" style="top:591.13px;right:358px;">0.040</div><div class="t n" style="top:591.13px;right:299px;">49</div><div class="t n" style="top:591.13px;right:248px;">49</div><div class="t n" style="top:591.13px;right:197px;">39</div><div class="t n" style="top:591.13px;right:146px;">38</div><div class="t n" style="top:591.13px;right:95px;">42</div><div class="t n" style="top:591.13px;left:1000.5px;width:200px;text-align:center;">1.71</div><div class="t s" style="top:612.22px;left:2px;">Michigan</div><div class="t bn" style="top:611.60px;right:983px;">1,000,019</div><div class="t bn" style="top:611.60px;right:928px;">308</div><div class="t bn" style="top:611.60px;right:877px;">20,999</div><div class="t bn" style="top:611.60px;right:826px;">3</div><div class="t bn" style="top:611.60px;right:753px;">865,577</div><div class="t bn" style="top:611.60px;right:690px;">113,443</div><div class="t n" style="top:611.63px;right:637px;">0.000</div><div class="t n" style="top:611.63px;right:584px;">0.000</div><div class="t n" style="top:611.63px;right:531px;">0.001</div><div class="t n" style="top:611.63px;right:478px;">0.002</div><div class="t n" style="top:611.63px;right:425px;">0.003</div><div class="t n" style="top:611.63px;right:358px;">0.001</div><div class="t n" style="top:611.63px;right:299px;">22</div><div class="t n" style="top:611.63px;right:248px;">23</div><div class="t n" style="top:611.63px;right:197px;">14</div><div class="t n" style="top:611.63px;right:146px;">18</div><div class="t n" style="top:611.63px;right:95px;">19</div><div class="t n" style="top:611.63px;left:1000.5px;width:200px;text-align:center;">2.33</div><div class="t s" style="top:632.22px;left:2px;">Minnesota</div><div class="t bn" style="top:631.60px;right:983px;">605,365</div><div class="t bn" style="top:631.60px;right:928px;">68</div><div class="t bn" style="top:631.60px;right:877px;">7,672</div><div class="t bn" style="top:631.60px;right:826px;">7</div><div class="t bn" style="top:631.60px;right:753px;">597,013</div><div class="t bn" style="top:631.60px;right:690px;">680</div><div class="t n" style="top:631.63px;right:637px;">0.077</div><div class="t n" style="top:631.63px;right:584px;">0.119</div><div class="t n" style="top:631.63px;right:531px;">0.106</div><div class="t n" style="top:631.63px;right:478px;">0.107</div><div class="t n" style="top:631.63px;right:425px;">0.097</div><div class="t n" style="top:631.63px;right:358px;">0.101</div><div class="t n" style="top:631.63px;right:299px;">53</div><div class="t n" style="top:631.63px;right:248px;">54</div><div class="t n" style="top:631.63px;right:197px;">47</div><div class="t n" style="top:631.63px;right:146px;">49</div><div class="t n" style="top:631.63px;right:95px;">45</div><div class="t n" style="top:631.63px;left:1000.5px;width:200px;text-align:center;">0.96</div><div class="t s" style="top:652.22px;left:2px;">Mississippi</div><div class="t bn" style="top:651.60px;right:983px;">321,764</div><div class="t bn" style="top:651.60px;right:928px;">356</div><div class="t bn" style="top:651.60px;right:877px;">7,412</div><div class="t bn" style="top:651.60px;right:753px;">311,917</div><div class="t bn" style="top:651.60px;right:690px;">2,435</div><div class="t n" style="top:651.63px;right:637px;">0.000</div><div class="t n" style="top:651.63px;right:584px;">0.000</div><div class="t n" style="top:651.63px;right:531px;">0.127</div><div class="t n" style="top:651.63px;right:478px;">0.101</div><div class="t n" style="top:651.63px;right:425px;">0.171</div><div class="t n" style="top:651.63px;right:358px;">0.080</div><div class="t n" style="top:651.63px;right:299px;">21</div><div class="t n" style="top:651.63px;right:248px;">22</div><div class="t n" style="top:651.63px;right:197px;">50</div><div class="t n" style="top:651.63px;right:146px;">48</div><div class="t n" style="top:651.63px;right:95px;">50</div><div class="t n" style="top:651.63px;left:1000.5px;width:200px;text-align:center;">2.14</div><div class="t s" style="top:672.22px;left:2px;">Missouri</div><div class="t bn" style="top:671.60px;right:983px;">618,734</div><div class="t bn" style="top:671.60px;right:928px;">1313</div><div class="t bn" style="top:671.60px;right:877px;">9,892</div><div class="t bn" style="top:671.60px;right:753px;">558,757</div><div class="t bn" style="top:671.60px;right:690px;">50,085</div><div class="t n" style="top:671.63px;right:637px;">0.016</div><div class="t n" style="top:671.63px;right:584px;">0.013</div><div class="t n" style="top:671.63px;right:531px;">0.009</div><div class="t n" style="top:671.63px;right:478px;">0.019</div><div class="t n" style="top:671.63px;right:425px;">0.027</div><div class="t n" style="top:671.63px;right:358px;">0.017</div><div class="t n" style="top:671.63px;right:299px;">46</div><div class="t n" style="top:671.63px;right:248px;">47</div><div class="t n" style="top:671.63px;right:197px;">26</div><div class="t n" style="top:671.63px;right:146px;">33</div><div class="t n" style="top:671.63px;right:95px;">32</div><div class="t n" style="top:671.63px;left:1000.5px;width:200px;text-align:center;">1.60</div><div class="t s" style="top:691.72px;left:2px;">Montana</div><div class="t bn" style="top:691.10px;right:983px;">113,755</div><div class="t bn" style="top:691.10px;right:928px;">65</div><div class="t bn" style="top:691.10px;right:877px;">1,665</div><div class="t bn" style="top:691.10px;right:753px;">111,679</div><div class="t bn" style="top:691.10px;right:690px;">411</div><div class="t n" style="top:691.13px;right:637px;">0.000</div><div class="t n" style="top:691.13px;right:584px;">0.000</div><div class="t n" style="top:691.13px;right:531px;">0.104</div><div class="t n" style="top:691.13px;right:478px;">0.285</div><div class="t n" style="top:691.13px;right:425px;">0.159</div><div class="t n" style="top:691.13px;right:358px;">0.110</div><div class="t n" style="top:691.13px;right:299px;">20</div><div class="t n" style="top:691.13px;right:248px;">21</div><div class="t n" style="top:691.13px;right:197px;">46</div><div class="t n" style="top:691.13px;right:146px;">54</div><div class="t n" style="top:691.13px;right:95px;">48</div><div class="t n" style="top:691.13px;left:1000.5px;width:200px;text-align:center;">1.45</div><div class="t s" style="top:711.72px;left:2px;">Nebraska</div><div class="t bn" style="top:711.10px;right:983px;">224,488</div><div class="t bn" style="top:711.10px;right:928px;">84</div><div class="t bn" style="top:711.10px;right:877px;">2,261</div><div class="t bn" style="top:711.10px;right:753px;transform:scaleX(1.12);transform-origin:right;">N/A</div><div class="t bn" style="top:711.10px;right:690px;transform:scaleX(1.12);transform-origin:right;">N/A</div><div class="t bn" style="top:711.10px;left:386.0px;width:200px;text-align:center;">######</div><div class="t bn" style="top:711.10px;left:439.0px;width:200px;text-align:center;">######</div><div class="t bn" style="top:711.10px;left:492.0px;width:200px;text-align:center;">######</div><div class="t bn" style="top:711.10px;left:545.0px;width:200px;text-align:center;">######</div><div class="t bn" style="top:711.10px;left:598.0px;width:200px;text-align:center;">######</div><div class="t n" style="top:711.13px;left:658.0px;width:200px;text-align:center;transform:scaleX(1.03);transform-origin:center;">#VALUE!</div><div class="t n" style="top:711.13px;right:299px;">2</div><div class="t n" style="top:711.13px;right:248px;">2</div><div class="t n" style="top:711.13px;right:197px;">2</div><div class="t n" style="top:711.13px;right:146px;">2</div><div class="t n" style="top:711.13px;right:95px;">2</div><div class="t n" style="top:711.13px;left:1000.5px;width:200px;text-align:center;transform:scaleX(1.03);transform-origin:center;">#VALUE!</div>
</body></html>
